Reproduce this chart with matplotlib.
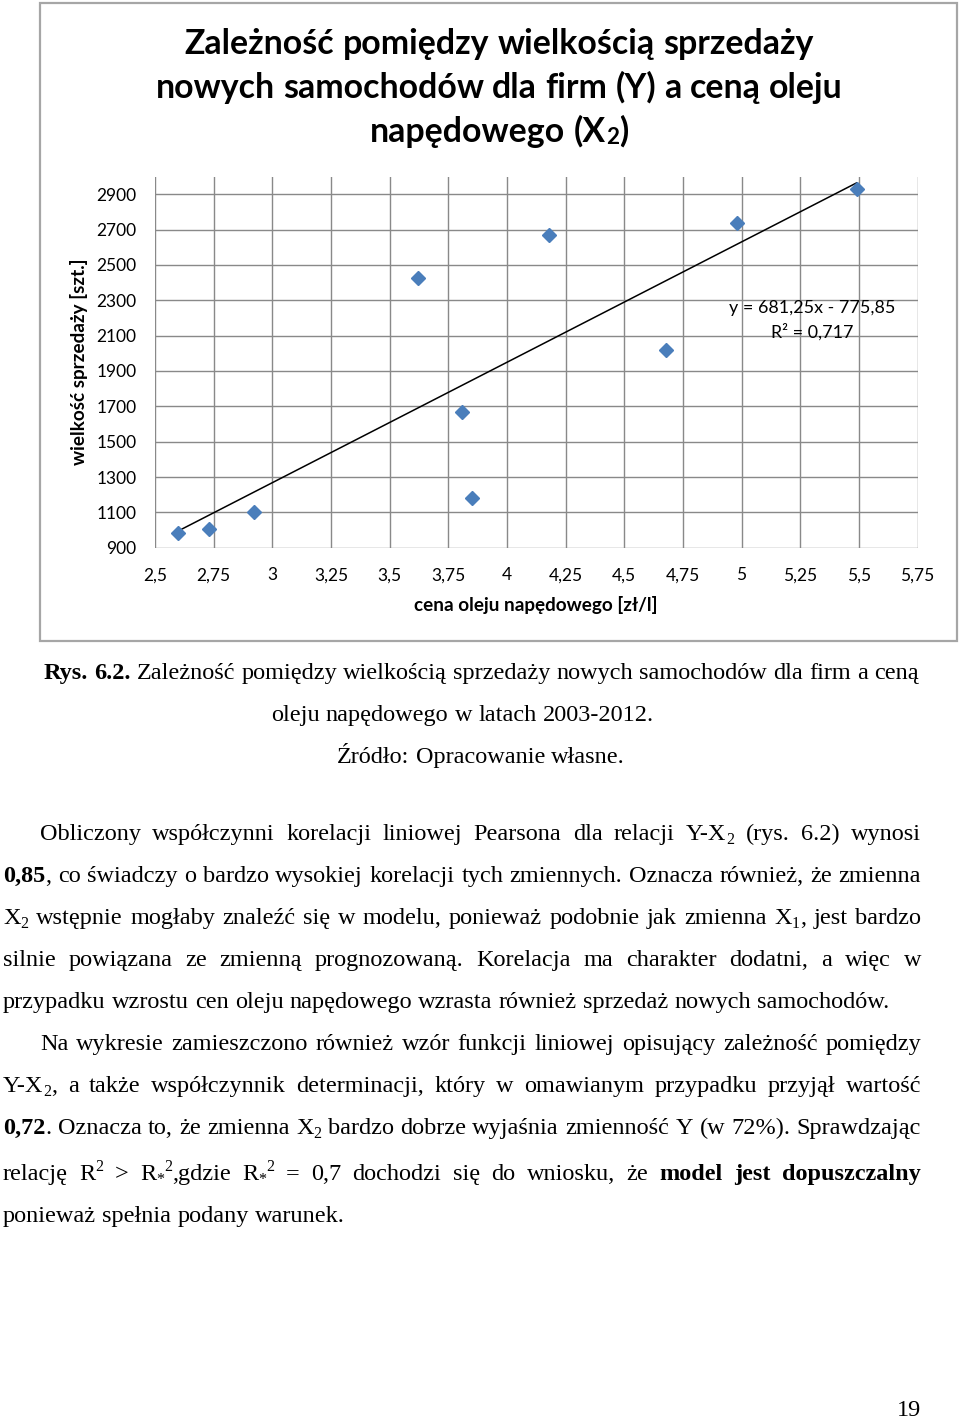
import numpy as np
import matplotlib
matplotlib.use("Agg")
import matplotlib.pyplot as plt
from matplotlib.transforms import Affine2D
from matplotlib.patches import Rectangle

# ---------------- data ----------------
price = [2.60, 2.73, 2.92, 3.62, 3.81, 3.85, 4.18, 4.68, 4.98, 5.49]
sales = [985, 1004, 1100, 2428, 1666, 1183, 2672, 2021, 2736, 2929]
slope = 681.25
intercept = -775.85
r2 = 0.717
x_ticks = [2.5, 2.75, 3.0, 3.25, 3.5, 3.75, 4.0, 4.25, 4.5, 4.75, 5.0, 5.25, 5.5, 5.75]
y_ticks = [900, 1100, 1300, 1500, 1700, 1900, 2100, 2300, 2500, 2700, 2900]

title_lines = ["Zależność pomiędzy wielkością sprzedaży",
               "nowych samochodów dla firm (Y) a ceną oleju",
               "napędowego (X_{2})"]
x_label = "cena oleju napędowego [zł/l]"
y_label = "wielkość sprzedaży [szt.]"

caption_lines = ["**Rys. 6.2.** Zależność pomiędzy wielkością sprzedaży nowych samochodów dla firm a ceną",
                 "oleju napędowego w latach 2003-2012.",
                 "Źródło: Opracowanie własne."]

para_lines = [
    ("Obliczony współczynni korelacji liniowej Pearsona dla relacji Y-X_{2} (rys. 6.2) wynosi", 40, "justify"),
    ("**0,85**, co świadczy o bardzo wysokiej korelacji tych zmiennych. Oznacza również, że zmienna", 3, "justify"),
    ("X_{2} wstępnie mogłaby znaleźć się w modelu, ponieważ podobnie jak zmienna X_{1}, jest bardzo", 3, "justify"),
    ("silnie powiązana ze zmienną prognozowaną. Korelacja ma charakter dodatni, a więc w", 3, "justify"),
    ("przypadku wzrostu cen oleju napędowego wzrasta również sprzedaż nowych samochodów.", 3, "left"),
    ("Na wykresie zamieszczono również wzór funkcji liniowej opisujący zależność pomiędzy", 40, "justify"),
    ("Y-X_{2}, a także współczynnik determinacji, który w omawianym przypadku przyjął wartość", 3, "justify"),
    ("**0,72**. Oznacza to, że zmienna X_{2} bardzo dobrze wyjaśnia zmienność Y (w 72%). Sprawdzając", 3, "justify"),
    ("relację R^{2} > R_{*}^{2},gdzie R_{*}^{2} = 0,7 dochodzi się do wniosku, że **model jest dopuszczalny**", 3, "justify"),
    ("ponieważ spełnia podany warunek.", 3, "left"),
]
para_baselines = [840, 882, 924, 966, 1008, 1050, 1092, 1134, 1180, 1222]

# ---------------- figure ----------------
W, H = 960, 1419
fig = plt.figure(figsize=(W / 100, H / 100), dpi=100)
fig.patch.set_facecolor("white")
PX = Affine2D().scale(1, -1).translate(0, H)   # pixel coords, origin top-left
R = fig.canvas.get_renderer()

SANS = "Lato"
SERIF = "Liberation Serif"


def parse_line(s, bold0=False):
    words, cur, buf = [], [], ""
    bold = bold0
    i = 0

    def flush():
        nonlocal buf
        if buf:
            cur.append((buf, "n", bold))
            buf = ""
    while i < len(s):
        if s.startswith("**", i):
            flush()
            bold = not bold
            i += 2
        elif s[i] in "_^" and i + 1 < len(s) and s[i + 1] == "{":
            flush()
            j = s.index("}", i)
            cur.append((s[i + 2:j], "sub" if s[i] == "_" else "sup", bold))
            i = j + 1
        elif s[i] == " ":
            flush()
            if cur:
                words.append(cur)
                cur = []
            i += 1
        else:
            buf += s[i]
            i += 1
    flush()
    if cur:
        words.append(cur)
    return words


def run_props(kind, bold, size, family):
    sc = 0.66 if kind != "n" else 1.0
    return dict(fontsize=size * sc, fontweight="bold" if bold else "normal", family=family)


def tw(s, **kw):
    t = fig.text(0, 0, s, **kw)
    w = t.get_window_extent(R).width
    t.remove()
    return w


def draw_line(s, y, x0, x1, align, size, family, color="black", bold=False, sub_dy=0.18):
    words = parse_line(s, bold)
    base = dict(fontsize=size, family=family, fontweight="bold" if bold else "normal")
    sp = tw("n n", **base) - tw("nn", **base)
    wws = []
    for wd in words:
        ws = [tw(t, **run_props(k, b, size, family)) for (t, k, b) in wd]
        wws.append(ws)
    tot_words = sum(sum(ws) for ws in wws)
    n = len(words)
    if align == "justify" and n > 1:
        gap = (x1 - x0 - tot_words) / (n - 1)
        x = x0
    elif align == "center":
        gap = sp
        x = (x0 + x1) / 2 - (tot_words + sp * (n - 1)) / 2
    elif align == "right":
        gap = sp
        x = x1 - (tot_words + sp * (n - 1))
    else:
        gap = sp
        x = x0
    spx = size * 100 / 72
    for wd, ws in zip(words, wws):
        for (t, k, b), w in zip(wd, ws):
            dy = 0.0
            if k == "sub":
                dy = sub_dy * spx
            elif k == "sup":
                dy = -0.38 * spx
            fig.text(x, y + dy, t, transform=PX, va="baseline", ha="left",
                     color=color, **run_props(k, b, size, family))
            x += w
        x += gap


# ---------------- chart frame ----------------
fig.patches.append(Rectangle((40, 3), 917, 638, transform=PX, fill=False,
                             edgecolor="#a6a6a6", linewidth=1.6, zorder=0))

# title
for i, line in enumerate(title_lines):
    draw_line(line, 54 + 44 * i, 40, 958, "center", 24.4, SANS, bold=True, sub_dy=0.05)

# axes
ax_l, ax_r, ax_t, ax_b = 155, 917.5, 176.6, 547.7
ax = fig.add_axes([ax_l / W, 1 - ax_b / H, (ax_r - ax_l) / W, (ax_b - ax_t) / H])
ax.set_xlim(2.5, 5.75)
ax.set_ylim(900, 3000)
ax.set_facecolor("none")
gc = "#898989"
for xv in x_ticks:
    ax.axvline(xv, color=gc, lw=1.0, zorder=1)
for yv in y_ticks:
    ax.axhline(yv, color=gc, lw=1.0, zorder=1)
for sp_ in ax.spines.values():
    sp_.set_visible(False)
ax.set_xticks(x_ticks)
ax.set_xticklabels([("%g" % v).replace(".", ",") for v in x_ticks])
ax.set_yticks(y_ticks)
ax.set_yticklabels([str(v) for v in y_ticks])
ax.tick_params(axis="both", length=0, labelsize=12.5, colors="black")
ax.tick_params(axis="y", pad=13.5)
ax.tick_params(axis="x", pad=14)
for lab in ax.get_xticklabels() + ax.get_yticklabels():
    lab.set_family(SANS)
ax.set_xlabel(x_label, fontsize=13.6, fontweight="bold", family=SANS, labelpad=9)
ax.set_ylabel(y_label, fontsize=13.6, fontweight="bold", family=SANS, labelpad=6)

# trendline
xs = np.array([min(price), max(price)])
ax.plot(xs, slope * xs + intercept, color="black", lw=1.1, zorder=2)
# points
ax.plot(price, sales, linestyle="none", marker="D", markersize=7.2,
        color="#4a7ebb", markeredgecolor="#4a7ebb", zorder=3, clip_on=False)

# trend equation label
eq1 = "y = %s - %s" % (("%.2fx" % slope).replace(".", ","), ("%.2f" % abs(intercept)).replace(".", ","))
eq2 = "R² = %s" % ("%.3f" % r2).replace(".", ",")
fig.text(812, 313, eq1, transform=PX, ha="center", va="baseline", fontsize=12.9, family=SANS)
fig.text(812, 338, eq2, transform=PX, ha="center", va="baseline", fontsize=12.9, family=SANS)

# ---------------- caption ----------------
TS = 17.5
draw_line(caption_lines[0], 679, 44, 918, "center", TS, SERIF)
draw_line(caption_lines[1], 721, 271, 700, "left", TS, SERIF)
draw_line(caption_lines[2], 763, 44, 918, "center", TS, SERIF)

# ---------------- paragraphs ----------------
for (txt, x0, al), yb in zip(para_lines, para_baselines):
    draw_line(txt, yb, x0, 921, al, TS, SERIF)

# page number
fig.text(921, 1416, "19", transform=PX, ha="right", va="baseline", fontsize=TS, family=SERIF)

fig.savefig("out.png", dpi=100, facecolor="white")
